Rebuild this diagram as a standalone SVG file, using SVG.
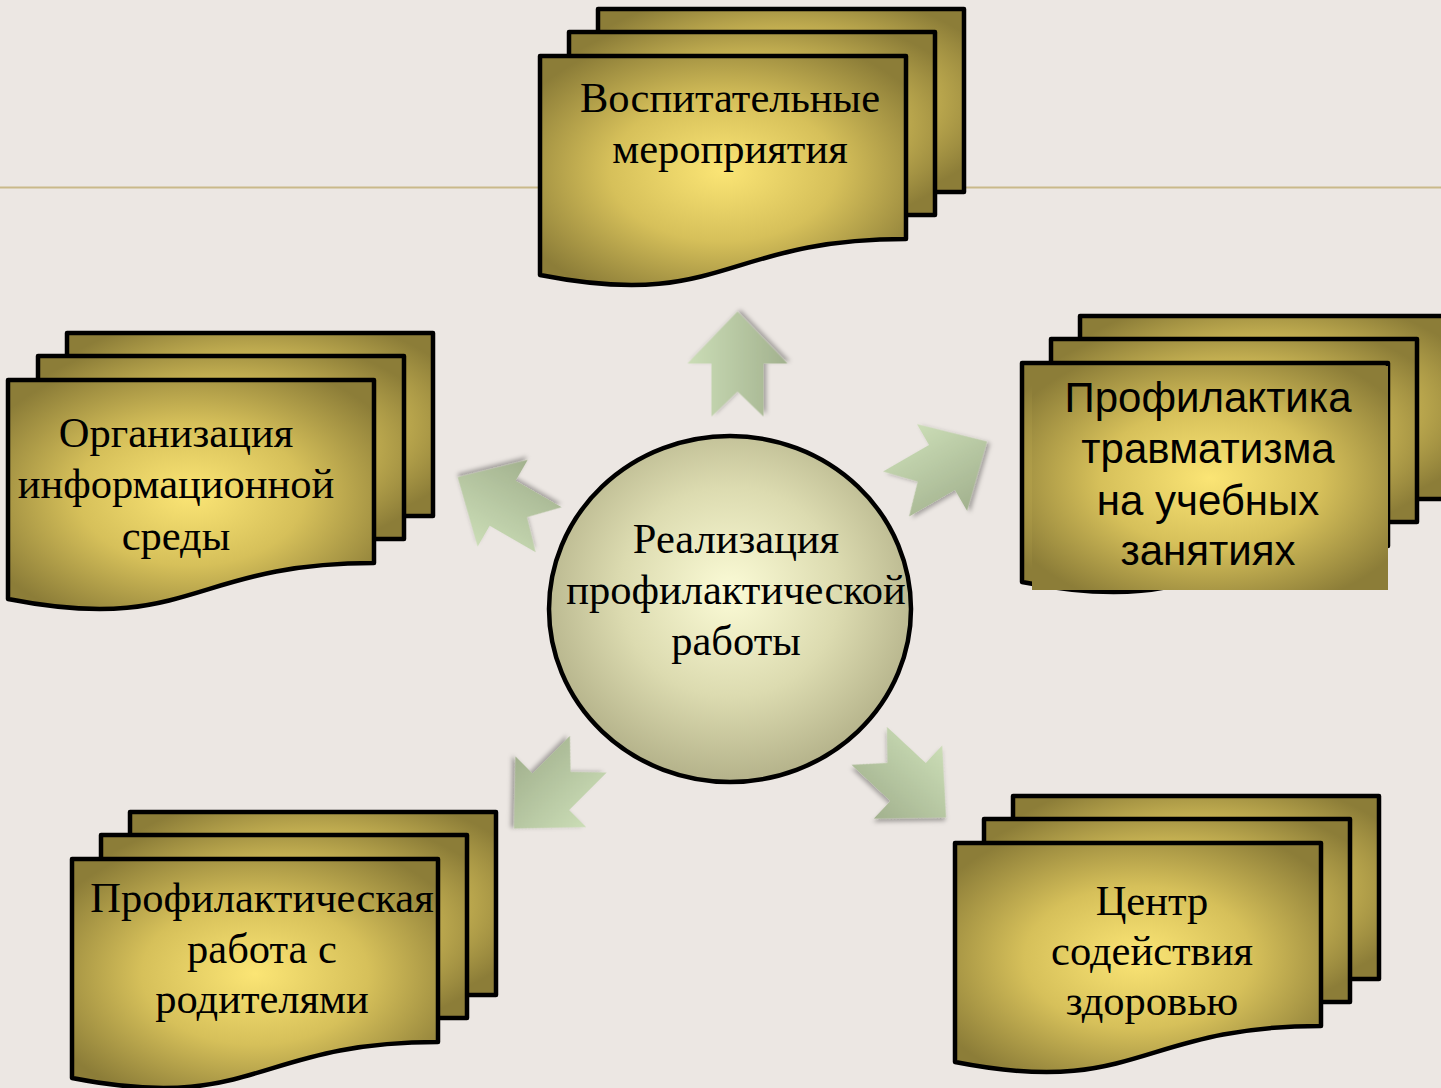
<svg xmlns="http://www.w3.org/2000/svg" xmlns:xlink="http://www.w3.org/1999/xlink" width="1441" height="1088" viewBox="0 0 1441 1088">
<defs>
<radialGradient id="gold" cx="0.5" cy="0.5" r="0.62">
<stop offset="0" stop-color="#fbe575"/>
<stop offset="0.5" stop-color="#d6c05a"/>
<stop offset="1" stop-color="#8c7d38"/>
</radialGradient>
<radialGradient id="pale" cx="0.5" cy="0.45" r="0.55">
<stop offset="0" stop-color="#fbfbd6"/>
<stop offset="0.55" stop-color="#dcdbb0"/>
<stop offset="1" stop-color="#b4b28a"/>
</radialGradient>
<linearGradient id="green" x1="0" y1="0" x2="0" y2="1">
<stop offset="0" stop-color="#cbddb6"/>
<stop offset="1" stop-color="#a2b18e"/>
</linearGradient>
<filter id="sh" x="-20%" y="-20%" width="140%" height="140%">
<feDropShadow dx="2" dy="3" stdDeviation="2" flood-color="#000" flood-opacity="0.3"/>
</filter>
<rect id="back" width="366" height="183" class="page"/>
<path id="front" d="M0,0 H366 V183 C183,183 183,255 0,219 Z" class="page"/>
<polygon id="arrow" points="52,0 0,-50 0,-26 -53,-26 -28,0 -53,26 0,26 0,50" fill="url(#green)" filter="url(#sh)"/>
</defs>
<style>
.page{fill:url(#gold);stroke:#000;stroke-width:4.5;stroke-linejoin:round}
.serif{font-family:"Liberation Serif","Times New Roman",serif;font-size:42.5px;fill:#000;text-anchor:middle}
.sans{font-family:"Liberation Sans",Arial,sans-serif;font-size:42px;fill:#000;text-anchor:middle}
</style>
<rect width="1441" height="1088" fill="#ece7e3"/>
<rect x="0" y="186.5" width="1441" height="2" fill="#c9b98a"/>

<g id="node-top">
<use xlink:href="#back" transform="translate(598,9)"/>
<use xlink:href="#back" transform="translate(569,32)"/>
<use xlink:href="#front" transform="translate(540,56)"/>
<text class="serif" x="730" y="112">Воспитательные</text>
<text class="serif" x="730" y="163">мероприятия</text>
</g>

<g id="node-left">
<use xlink:href="#back" transform="translate(67,333)"/>
<use xlink:href="#back" transform="translate(38,356)"/>
<use xlink:href="#front" transform="translate(8,380)"/>
<text class="serif" x="176" y="447">Организация</text>
<text class="serif" x="176" y="498">информационной</text>
<text class="serif" x="176" y="550">среды</text>
</g>

<g id="node-right">
<use xlink:href="#back" transform="translate(1080,316)"/>
<use xlink:href="#back" transform="translate(1051,339)"/>
<use xlink:href="#front" transform="translate(1022,363)"/>
<rect x="1032" y="366" width="356" height="224" fill="url(#gold)"/>
<text class="sans" x="1208" y="412">Профилактика</text>
<text class="sans" x="1208" y="463">травматизма</text>
<text class="sans" x="1208" y="515">на учебных</text>
<text class="sans" x="1208" y="565">занятиях</text>
</g>

<g id="node-bottom-left">
<use xlink:href="#back" transform="translate(130,812)"/>
<use xlink:href="#back" transform="translate(101,835)"/>
<use xlink:href="#front" transform="translate(72,859)"/>
<text class="serif" x="262" y="912">Профилактическая</text>
<text class="serif" x="262" y="963">работа с</text>
<text class="serif" x="262" y="1013">родителями</text>
</g>

<g id="node-bottom-right">
<use xlink:href="#back" transform="translate(1013,796)"/>
<use xlink:href="#back" transform="translate(984,819)"/>
<use xlink:href="#front" transform="translate(955,843)"/>
<text class="serif" x="1152" y="915">Центр</text>
<text class="serif" x="1152" y="965">содействия</text>
<text class="serif" x="1152" y="1015">здоровью</text>
</g>

<g id="connectors">
<use xlink:href="#arrow" transform="translate(737.5,363.5) rotate(-90)"/>
<use xlink:href="#arrow" transform="translate(942,467.5) rotate(-30)"/>
<use xlink:href="#arrow" transform="translate(502.7,503.2) rotate(-150)"/>
<use xlink:href="#arrow" transform="translate(550.8,791.7) rotate(135)"/>
<use xlink:href="#arrow" transform="translate(908,782) rotate(43)"/>
</g>

<g id="node-center">
<ellipse cx="730" cy="609" rx="181" ry="173" fill="url(#pale)" stroke="#000" stroke-width="4.5"/>
<text class="serif" x="736" y="553">Реализация</text>
<text class="serif" x="736" y="604">профилактической</text>
<text class="serif" x="736" y="655">работы</text>
</g>
</svg>
